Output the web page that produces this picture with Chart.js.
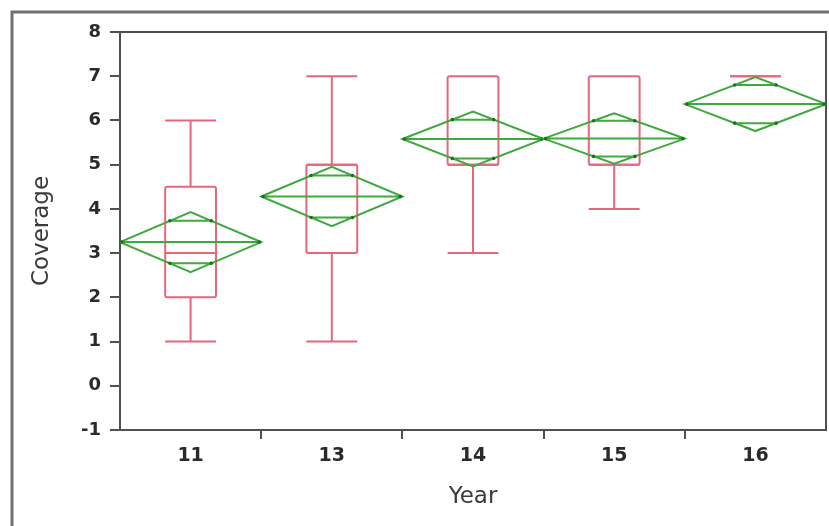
<!DOCTYPE html>
<html>
<head>
<meta charset="utf-8">
<script src="https://cdn.jsdelivr.net/npm/chart.js@4.4.1/dist/chart.umd.min.js"></script>
<style>
  html, body { margin: 0; padding: 0; background: #ffffff; }
  #wrap { width: 829px; height: 526px; position: relative; }
</style>
</head>
<body>
<div id="wrap"><canvas id="c" width="829" height="526"></canvas></div>
<script>
// Coverage by year: box plot summaries and means diamonds
const years = ['11', '13', '14', '15', '16'];
const whiskerLow = [1, 1, 3, 4, 7];
const quartile1 = [2, 3, 5, 5, 7];
const medians = [3, 5, 5, 5, 7];
const quartile3 = [4.5, 5, 7, 7, 7];
const whiskerHigh = [6, 7, 7, 7, 7];
const means = [3.25, 4.28, 5.58, 5.59, 6.37];
const ciHalf = [0.68, 0.67, 0.62, 0.57, 0.61];
const yTicks = [-1, 0, 1, 2, 3, 4, 5, 6, 7, 8];

const RED = '#e8667a';
const GREEN = '#3fa93f';
const GREEN_DOT = '#1d6f1d';
const AXIS = '#505050';

const boxDiamondPlugin = {
  id: 'boxDiamond',
  beforeDraw(chart) {
    // outer panel frame (left and top edges)
    const ctx = chart.ctx;
    ctx.save();
    ctx.strokeStyle = '#707070';
    ctx.lineWidth = 3;
    ctx.beginPath();
    ctx.moveTo(12, chart.height);
    ctx.lineTo(12, 12);
    ctx.lineTo(chart.width, 12);
    ctx.stroke();
    ctx.restore();
  },
  afterDatasetsDraw(chart) {
    const { ctx, chartArea, scales } = chart;
    const x = scales.x, y = scales.y;
    const step = x.getPixelForValue(1) - x.getPixelForValue(0);
    const boxW = step * 0.36;

    ctx.save();
    ctx.beginPath();
    ctx.rect(chartArea.left, chartArea.top - 2, chartArea.right - chartArea.left, chartArea.bottom - chartArea.top + 4);
    ctx.clip();

    // box plots
    ctx.strokeStyle = RED;
    ctx.lineWidth = 2;
    years.forEach((_, i) => {
      const cx = x.getPixelForValue(i);
      const yLo = y.getPixelForValue(whiskerLow[i]);
      const yQ1 = y.getPixelForValue(quartile1[i]);
      const yMed = y.getPixelForValue(medians[i]);
      const yQ3 = y.getPixelForValue(quartile3[i]);
      const yHi = y.getPixelForValue(whiskerHigh[i]);
      const l = cx - boxW / 2, r = cx + boxW / 2;
      ctx.beginPath();
      // upper whisker
      if (whiskerHigh[i] > quartile3[i]) {
        ctx.moveTo(cx, yQ3); ctx.lineTo(cx, yHi);
        ctx.moveTo(l, yHi); ctx.lineTo(r, yHi);
      }
      // lower whisker
      if (whiskerLow[i] < quartile1[i]) {
        ctx.moveTo(cx, yQ1); ctx.lineTo(cx, yLo);
        ctx.moveTo(l, yLo); ctx.lineTo(r, yLo);
      }
      ctx.stroke();
      // box
      ctx.beginPath();
      if (quartile3[i] > quartile1[i]) {
        ctx.roundRect(l, yQ3, boxW, yQ1 - yQ3, 2);
      } else {
        ctx.moveTo(l, yQ3); ctx.lineTo(r, yQ3);
      }
      ctx.stroke();
      // median
      ctx.beginPath();
      ctx.moveTo(l, yMed); ctx.lineTo(r, yMed);
      ctx.stroke();
    });

    // means diamonds
    years.forEach((_, i) => {
      const cx = x.getPixelForValue(i);
      const xl = cx - step / 2, xr = cx + step / 2;
      const yM = y.getPixelForValue(means[i]);
      const yTop = y.getPixelForValue(means[i] + ciHalf[i]);
      const yBot = y.getPixelForValue(means[i] - ciHalf[i]);
      const ov = ciHalf[i] / Math.SQRT2;
      const yOvT = y.getPixelForValue(means[i] + ov);
      const yOvB = y.getPixelForValue(means[i] - ov);
      const ovHalfW = (step / 2) * (1 - 1 / Math.SQRT2);

      ctx.strokeStyle = GREEN;
      ctx.lineWidth = 2;
      ctx.beginPath();
      ctx.moveTo(xl, yM);
      ctx.lineTo(cx, yTop);
      ctx.lineTo(xr, yM);
      ctx.lineTo(cx, yBot);
      ctx.closePath();
      ctx.moveTo(xl, yM); ctx.lineTo(xr, yM);
      ctx.moveTo(cx - ovHalfW, yOvT); ctx.lineTo(cx + ovHalfW, yOvT);
      ctx.moveTo(cx - ovHalfW, yOvB); ctx.lineTo(cx + ovHalfW, yOvB);
      ctx.stroke();

      ctx.fillStyle = GREEN_DOT;
      const dots = [
        [xl + 2, yM], [xr - 2, yM],
        [cx - ovHalfW, yOvT], [cx + ovHalfW, yOvT],
        [cx - ovHalfW, yOvB], [cx + ovHalfW, yOvB]
      ];
      dots.forEach(([px, py]) => {
        ctx.beginPath();
        ctx.arc(px, py, 1.8, 0, Math.PI * 2);
        ctx.fill();
      });
    });
    ctx.restore();
  },
  afterDraw(chart) {
    // top and right edges of the plot frame
    const { ctx, chartArea } = chart;
    ctx.save();
    ctx.strokeStyle = AXIS;
    ctx.lineWidth = 2;
    ctx.beginPath();
    ctx.moveTo(chartArea.left, chartArea.top);
    ctx.lineTo(chartArea.right, chartArea.top);
    ctx.lineTo(chartArea.right, chartArea.bottom);
    ctx.stroke();
    ctx.restore();
  }
};

new Chart(document.getElementById('c'), {
  type: 'line',
  data: {
    labels: years,
    datasets: [{
      label: 'Mean',
      data: means,
      showLine: false,
      pointRadius: 0,
      pointHoverRadius: 0
    }]
  },
  options: {
    responsive: false,
    animation: false,
    devicePixelRatio: 1,
    events: [],
    layout: { padding: { left: 0, top: 32, right: 3, bottom: 0 } },
    plugins: {
      legend: { display: false },
      tooltip: { enabled: false }
    },
    scales: {
      x: {
        type: 'category',
        offset: true,
        afterFit(scale) { scale.height = 96; },
        grid: {
          offset: true,
          drawOnChartArea: false,
          drawTicks: true,
          tickLength: 9,
          lineWidth: 2,
          // only the inner category boundaries carry a tick mark
          tickColor: (c) => (c.type !== 'tick' || c.index === 0) ? 'rgba(0,0,0,0)' : AXIS
        },
        border: { display: true, color: AXIS, width: 2 },
        ticks: {
          color: '#2a2a2a',
          padding: 6,
          font: { family: 'DejaVu Sans', size: 19, weight: 'bold' }
        },
        title: {
          display: true,
          text: 'Year',
          color: '#3a3a3a',
          padding: { top: 0, bottom: 15 },
          font: { family: 'DejaVu Sans', size: 23, weight: 'normal' }
        }
      },
      y: {
        type: 'linear',
        min: -1,
        max: 8,
        afterFit(scale) { scale.width = 120; },
        afterBuildTicks(scale) { scale.ticks = yTicks.map(v => ({ value: v })); },
        grid: {
          drawOnChartArea: false,
          drawTicks: true,
          tickLength: 10,
          lineWidth: 2,
          tickColor: AXIS
        },
        border: { display: true, color: AXIS, width: 2 },
        ticks: {
          color: '#2a2a2a',
          padding: 9,
          font: { family: 'DejaVu Sans', size: 18, weight: 'bold' }
        },
        title: {
          display: true,
          text: 'Coverage',
          color: '#3a3a3a',
          padding: { top: 28, bottom: 0 },
          font: { family: 'DejaVu Sans', size: 23, weight: 'normal' }
        }
      }
    }
  },
  plugins: [boxDiamondPlugin]
});
</script>
</body>
</html>
